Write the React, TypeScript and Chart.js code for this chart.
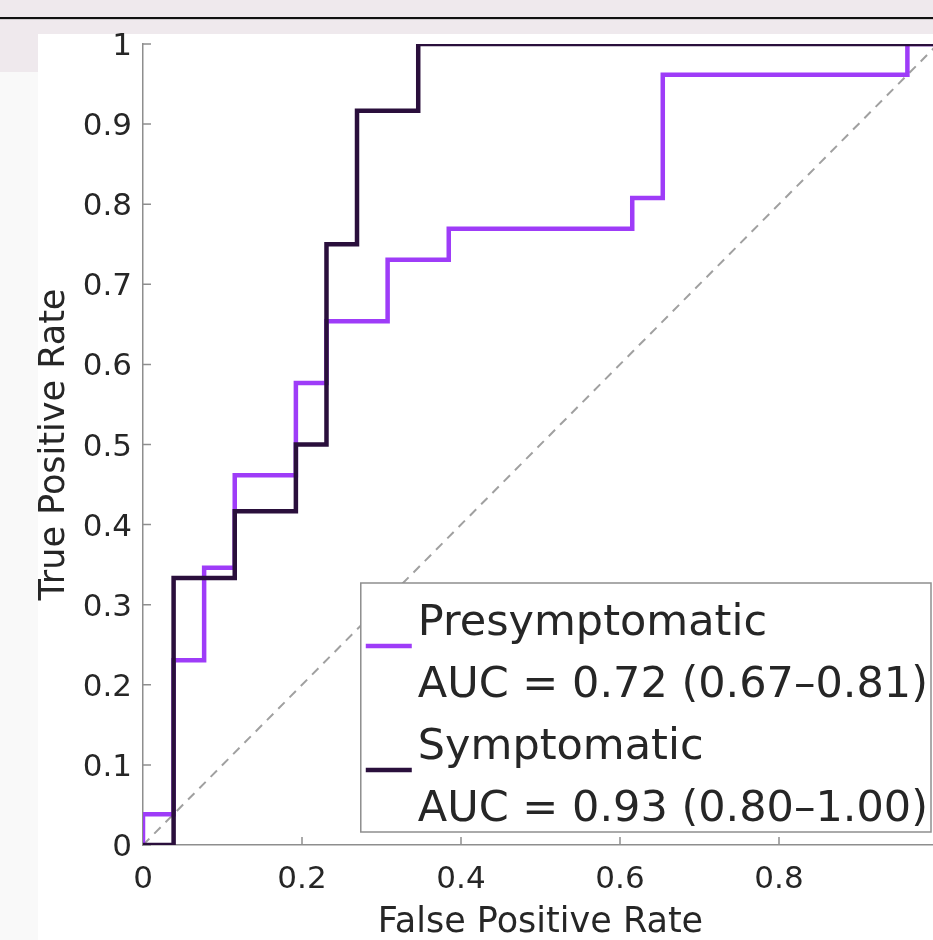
import React, { useEffect, useRef } from "react";
import { Chart, registerables } from "chart.js";

Chart.register(...registerables);

// ---- data ----
const seriesNames = ["Presymptomatic", "Symptomatic"];
const aucLabels = ["AUC = 0.72 (0.67–0.81)", "AUC = 0.93 (0.80–1.00)"];
const seriesColors = ["#9E3CF8", "#2A0F3C"];

const preFPR = [0, 0, 0.0385, 0.0385, 0.0769, 0.0769, 0.1154, 0.1154, 0.1923, 0.1923, 0.2308, 0.2308, 0.3077, 0.3077, 0.3846, 0.3846, 0.6154, 0.6154, 0.6538, 0.6538, 0.9615, 0.9615, 1];
const preTPR = [0, 0.0385, 0.0385, 0.2308, 0.2308, 0.3462, 0.3462, 0.4615, 0.4615, 0.5769, 0.5769, 0.6538, 0.6538, 0.7308, 0.7308, 0.7692, 0.7692, 0.8077, 0.8077, 0.9615, 0.9615, 1, 1];

const symFPR = [0, 0.0385, 0.0385, 0.1154, 0.1154, 0.1923, 0.1923, 0.2308, 0.2308, 0.2692, 0.2692, 0.3462, 0.3462, 1];
const symTPR = [0, 0, 0.3333, 0.3333, 0.4167, 0.4167, 0.5, 0.5, 0.75, 0.75, 0.9167, 0.9167, 1, 1];

const chanceFPR = [0, 1];
const chanceTPR = [0, 1];

const xTickValues = [0, 0.2, 0.4, 0.6, 0.8];
const xTickLabels = ["0", "0.2", "0.4", "0.6", "0.8"];
const yTickValues = [0, 0.1, 0.2, 0.3, 0.4, 0.5, 0.6, 0.7, 0.8, 0.9, 1];
const yTickLabels = ["0", "0.1", "0.2", "0.3", "0.4", "0.5", "0.6", "0.7", "0.8", "0.9", "1"];

const xTitle = "False Positive Rate";
const yTitle = "True Positive Rate";

const FONT = '"DejaVu Sans", "Noto Sans", sans-serif';
const TEXT = "#262626";
const AXIS = "#8e8e8e";

const CANVAS_W = 970;
const CANVAS_H = 916;
const CANVAS_TOP = 24;

const inwardTicks = {
  id: "inwardTicks",
  beforeDatasetsDraw(chart: any) {
    const { ctx, chartArea } = chart;
    const xs = chart.scales.x;
    const ys = chart.scales.y;
    ctx.save();
    ctx.strokeStyle = AXIS;
    ctx.lineWidth = 1.5;
    ctx.beginPath();
    xTickValues.forEach((v) => {
      const px = xs.getPixelForValue(v);
      ctx.moveTo(px, chartArea.bottom);
      ctx.lineTo(px, chartArea.bottom - 8);
    });
    yTickValues.forEach((v) => {
      const py = ys.getPixelForValue(v);
      ctx.moveTo(chartArea.left, py);
      ctx.lineTo(chartArea.left + 8, py);
    });
    ctx.stroke();
    ctx.restore();
  },
};

const rocLegend = {
  id: "rocLegend",
  afterDatasetsDraw(chart: any) {
    const { ctx, chartArea } = chart;
    ctx.save();
    ctx.font = `43px ${FONT}`;
    const lines = [seriesNames[0], aucLabels[0], seriesNames[1], aucLabels[1]];
    const textW = Math.max(...lines.map((t) => ctx.measureText(t).width));
    const right = chartArea.right - 7;
    const bottom = chartArea.bottom - 13;
    const w = 57 + textW + 3;
    const h = 249;
    const left = right - w;
    const top = bottom - h;
    ctx.fillStyle = "#ffffff";
    ctx.fillRect(left, top, w, h);
    ctx.strokeStyle = AXIS;
    ctx.lineWidth = 1.5;
    ctx.strokeRect(left, top, w, h);
    ctx.fillStyle = TEXT;
    ctx.textAlign = "left";
    ctx.textBaseline = "alphabetic";
    lines.forEach((t, i) => ctx.fillText(t, left + 57, top + 52 + i * 62));
    seriesColors.forEach((c, k) => {
      const y = top + 52 + k * 124 + 11;
      ctx.strokeStyle = c;
      ctx.lineWidth = 4.5;
      ctx.beginPath();
      ctx.moveTo(left + 5, y);
      ctx.lineTo(left + 51, y);
      ctx.stroke();
    });
    ctx.restore();
  },
};

export default function App() {
  const ref = useRef<HTMLCanvasElement | null>(null);

  useEffect(() => {
    if (!ref.current) return;
    const toPts = (xs: number[], ys: number[]) => xs.map((x, i) => ({ x, y: ys[i] }));
    const chart = new Chart(ref.current, {
      type: "scatter",
      data: {
        datasets: [
          {
            label: seriesNames[1],
            data: toPts(symFPR, symTPR),
            showLine: true,
            borderColor: seriesColors[1],
            backgroundColor: seriesColors[1],
            borderWidth: 4.5,
            pointRadius: 0,
            borderJoinStyle: "miter",
            order: 0,
          },
          {
            label: seriesNames[0],
            data: toPts(preFPR, preTPR),
            showLine: true,
            borderColor: seriesColors[0],
            backgroundColor: seriesColors[0],
            borderWidth: 4.5,
            pointRadius: 0,
            borderJoinStyle: "miter",
            order: 1,
          },
          {
            label: "chance",
            data: toPts(chanceFPR, chanceTPR),
            showLine: true,
            borderColor: "#a0a0a0",
            borderWidth: 2,
            borderDash: [9, 7],
            pointRadius: 0,
            order: 2,
          },
        ],
      },
      options: {
        responsive: false,
        animation: false,
        devicePixelRatio: 1,
        layout: { padding: { top: 44 - CANVAS_TOP, right: CANVAS_W - 904, bottom: 0, left: 0 } },
        plugins: {
          legend: { display: false },
          tooltip: { enabled: false },
        },
        scales: {
          x: {
            type: "linear",
            min: 0,
            max: 1,
            grid: { display: false, drawTicks: false },
            border: { display: true, color: AXIS, width: 1.5 },
            afterBuildTicks: (s: any) => {
              s.ticks = xTickValues.map((v) => ({ value: v }));
            },
            afterFit: (s: any) => {
              s.height = CANVAS_H - (845 - CANVAS_TOP);
              s.paddingLeft = 0;
              s.paddingRight = 0;
            },
            ticks: {
              padding: 16,
              color: TEXT,
              font: { family: FONT, size: 31 },
              maxRotation: 0,
              autoSkip: false,
              callback: (v: any) => xTickLabels[xTickValues.indexOf(Number(v))] ?? "",
            },
            title: {
              display: true,
              text: xTitle,
              color: TEXT,
              font: { family: FONT, size: 35 },
              padding: { top: 0, bottom: -4 },
            },
          },
          y: {
            type: "linear",
            min: 0,
            max: 1,
            grid: { display: false, drawTicks: false },
            border: { display: true, color: AXIS, width: 1.5 },
            afterBuildTicks: (s: any) => {
              s.ticks = yTickValues.map((v) => ({ value: v }));
            },
            afterFit: (s: any) => {
              s.width = 109;
              s.paddingTop = 0;
              s.paddingBottom = 0;
            },
            ticks: {
              padding: 11,
              labelOffset: 3,
              color: TEXT,
              font: { family: FONT, size: 31 },
              autoSkip: false,
              callback: (v: any) => yTickLabels[yTickValues.indexOf(Number(v))] ?? "",
            },
            title: {
              display: true,
              text: yTitle,
              color: TEXT,
              font: { family: FONT, size: 35 },
              padding: { top: 0, bottom: 0 },
            },
          },
        },
      },
      plugins: [inwardTicks, rocLegend],
    } as any);
    return () => chart.destroy();
  }, []);

  return (
    <div
      style={{
        position: "fixed",
        left: 0,
        top: 0,
        width: 933,
        height: 940,
        overflow: "hidden",
        background: "#F9F9F9",
      }}
    >
      <div style={{ position: "absolute", left: 0, top: 0, width: 933, height: 34, background: "#EFE9ED" }} />
      <div style={{ position: "absolute", left: 0, top: 17, width: 933, height: 2, background: "#111111" }} />
      <div style={{ position: "absolute", left: 0, top: 19, width: 933, height: 1, background: "#cfcacd" }} />
      <div style={{ position: "absolute", left: 0, top: 34, width: 38, height: 38, background: "#EFE9ED" }} />
      <div style={{ position: "absolute", left: 38, top: 34, width: 895, height: 906, background: "#ffffff" }} />
      <canvas
        ref={ref}
        width={CANVAS_W}
        height={CANVAS_H}
        style={{ position: "absolute", left: 34, top: CANVAS_TOP, width: CANVAS_W, height: CANVAS_H }}
      />
    </div>
  );
}
